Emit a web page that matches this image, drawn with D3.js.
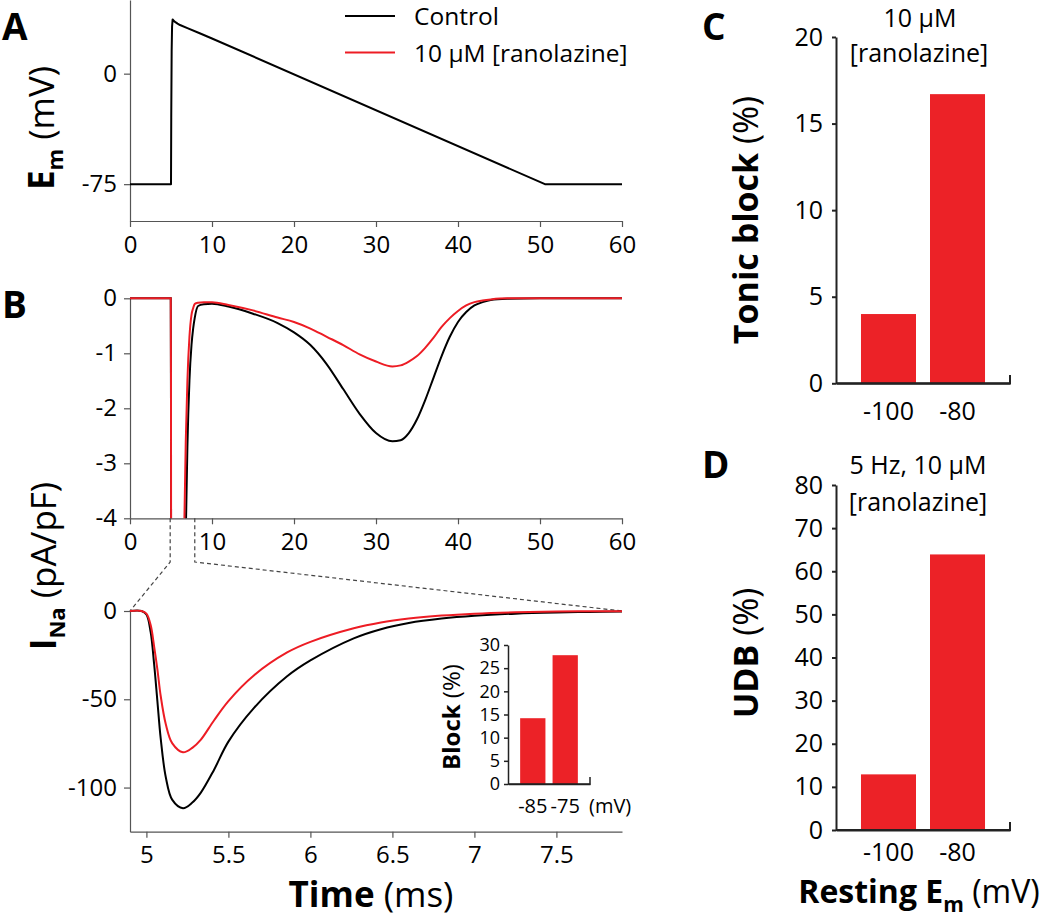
<!DOCTYPE html>
<html><head><meta charset="utf-8">
<script src="https://cdn.jsdelivr.net/npm/d3@7"></script>
<style>body{margin:0;background:#fff} text{font-family:'Open Sans',sans-serif}</style>
</head><body><svg id="c" width="1050" height="922"></svg>
<script>
// ---------- DATA ----------
const seriesNames = ["Control", "10 µM [ranolazine]"];
// Panel A: membrane potential (ms, mV)
const emTime    = [0, 5.0, 5.03, 5.08, 5.13, 5.2, 5.4, 5.8, 6.1, 7.0, 8.5, 10, 50.6, 60];
const emControl = [-75, -75, -30, 15, 32, 36.8, 35.5, 34.0, 33.0, 30.9, 27.4, 23.9, -75, -75];
const emTicks = [0, -75];
const timeTicks = [0, 10, 20, 30, 40, 50, 60];
// Panel B: I_Na (pA/pF) – early (peak) part
const tEarly = [4.9, 4.97, 5.0, 5.026, 5.047, 5.067, 5.087, 5.118, 5.158, 5.223, 5.28, 5.331, 5.412, 5.5, 5.655, 5.858, 6.0, 6.264, 6.43, 6.6, 6.8, 7.0, 7.25, 7.5, 7.7, 7.9];
const iEarlyControl = [0, 0, -2, -12, -30, -51, -72, -94, -107, -111.7, -108.5, -103, -90, -74, -55, -37, -28, -15.5, -10.3, -6.8, -4.3, -2.7, -1.5, -0.85, -0.55, -0.35];
const iEarlyRano    = [0, 0, -1.5, -8, -20, -33, -48, -64, -75, -80, -77.5, -73, -62, -51, -36.5, -23.5, -17.5, -9.8, -6.5, -4.3, -2.6, -1.5, -0.7, -0.3, -0.18, -0.1];
// Panel B: late (persistent) part
const tLate = [8.3, 9, 10, 12, 15, 18, 20, 22, 24, 26, 28, 30, 32, 33, 34, 35, 36, 37, 38, 39, 40, 41, 42, 43, 44, 46, 50, 60];
const iLateControl = [-0.14, -0.11, -0.1, -0.15, -0.28, -0.45, -0.62, -0.85, -1.2, -1.65, -2.1, -2.45, -2.6, -2.58, -2.45, -2.2, -1.85, -1.45, -1.05, -0.7, -0.43, -0.25, -0.13, -0.07, -0.03, -0.01, 0, 0];
const iLateRano    = [-0.08, -0.07, -0.07, -0.12, -0.22, -0.35, -0.43, -0.55, -0.7, -0.85, -1.02, -1.15, -1.24, -1.22, -1.15, -1.05, -0.9, -0.72, -0.52, -0.36, -0.23, -0.13, -0.07, -0.04, -0.02, 0, 0, 0];
const iTopTicks = [0, -1, -2, -3, -4];
const iZoomTicks = [0, -50, -100];
const zoomTimeTicks = [5, 5.5, 6, 6.5, 7, 7.5];
// Inset: block (%)
const insetCats = ["-85", "-75"];
const insetBlock = [14.2, 27.8];
const insetTicks = [0, 5, 10, 15, 20, 25, 30];
// Panel C: tonic block
const restCats = ["-100", "-80"];
const tonicBlock = [4.0, 16.7];
const tonicTicks = [0, 5, 10, 15, 20];
// Panel D: UDB
const udb = [12.9, 63.9];
const udbTicks = [0, 10, 20, 30, 40, 50, 60, 70, 80];

// ---------- STYLE ----------
const BLACK = "#000", RED = "#ED1C24", BAR = "#EC2227", AX = "#555";
const svg = d3.select("#c");
const zip = (t, v) => t.map((d, i) => [d, v[i]]);

function styleAxis(g, color, width, fs) {
  g.attr("font-family", "'Open Sans',sans-serif");
  g.select(".domain").attr("stroke", color).attr("stroke-width", width);
  g.selectAll(".tick line").attr("stroke", color).attr("stroke-width", width);
  g.selectAll(".tick text").attr("font-size", fs).attr("fill", "#000");
}
const fmt = d => String(d);

// ---------- PANEL A ----------
const xA = d3.scaleLinear().domain([0, 60]).range([130, 622]);
const yA = d3.scaleLinear().domain([-100, 50]).range([221, 0]);
styleAxis(svg.append("g").attr("transform", "translate(0,221)")
  .call(d3.axisBottom(xA).tickValues(timeTicks).tickFormat(fmt).tickSize(6).tickSizeOuter(0).tickPadding(9)), AX, 1.2, 24);
styleAxis(svg.append("g").attr("transform", "translate(130,0)")
  .call(d3.axisLeft(yA).tickValues(emTicks).tickFormat(fmt).tickSize(6).tickSizeOuter(0).tickPadding(7)), AX, 1.2, 24);
const lineA = d3.line().x(d => xA(d[0])).y(d => yA(d[1])).curve(d3.curveLinear);
svg.append("path").datum(zip(emTime, emControl)).attr("d", lineA)
  .attr("fill", "none").attr("stroke", BLACK).attr("stroke-width", 2).attr("stroke-linejoin", "round");

// legend
const legend = svg.append("g");
[BLACK, RED].forEach((c, i) => {
  const y = 16 + i * 36.5;
  legend.append("line").attr("x1", 345).attr("x2", 395).attr("y1", y).attr("y2", y).attr("stroke", c).attr("stroke-width", 2);
  legend.append("text").attr("x", 414).attr("y", y + 9).attr("font-size", 24.5).text(seriesNames[i]);
});

// ---------- PANEL B top ----------
const yB = d3.scaleLinear().domain([-4, 0]).range([518.3, 298.3]);
styleAxis(svg.append("g").attr("transform", "translate(0,518.3)")
  .call(d3.axisBottom(xA).tickValues(timeTicks).tickFormat(fmt).tickSize(6).tickSizeOuter(0).tickPadding(9)), AX, 1.2, 24);
styleAxis(svg.append("g").attr("transform", "translate(130,0)")
  .call(d3.axisLeft(yB).tickValues(iTopTicks).tickFormat(fmt).tickSize(6).tickSizeOuter(0).tickPadding(7)), AX, 1.2, 24);
svg.append("clipPath").attr("id", "clipB").append("rect")
  .attr("x", 130).attr("y", 290).attr("width", 500).attr("height", 518.3 - 290);
const lineB = d3.line().x(d => xA(d[0])).y(d => yB(d[1])).curve(d3.curveMonotoneX);
const topCtrl = zip([0].concat(tEarly, tLate), [0].concat(iEarlyControl, iLateControl));
const topRano = zip([0].concat(tEarly, tLate), [0].concat(iEarlyRano, iLateRano));
[[topCtrl, BLACK], [topRano, RED]].forEach(([d, c]) =>
  svg.append("path").datum(d).attr("d", lineB).attr("clip-path", "url(#clipB)")
    .attr("fill", "none").attr("stroke", c).attr("stroke-width", 2));

// ---------- PANEL B zoom ----------
const xZ = d3.scaleLinear().domain([4.9, 7.9]).range([130, 622]);
const yZ = d3.scaleLinear().domain([-125, 0]).range([831.7, 611]);
// dashed connectors
const dash = svg.append("g").attr("fill", "none").attr("stroke", "#444").attr("stroke-width", 1.2).attr("stroke-dasharray", "4,3");
dash.append("path").attr("d", `M${xA(4.9)},${yB(-4)}V562L${xZ(4.9)},${yZ(0)}`);
dash.append("path").attr("d", `M${xA(7.9)},${yB(-4)}V562L${xZ(7.9)},${yZ(0)}`);
styleAxis(svg.append("g").attr("transform", "translate(0,831.7)")
  .call(d3.axisBottom(xZ).tickValues(zoomTimeTicks).tickFormat(fmt).tickSize(6).tickSizeOuter(0).tickPadding(8)), AX, 1.2, 24);
styleAxis(svg.append("g").attr("transform", "translate(130,0)")
  .call(d3.axisLeft(yZ).tickValues(iZoomTicks).tickFormat(fmt).tickSize(6).tickSizeOuter(0).tickPadding(7)), AX, 1.2, 24);
const lineZ = d3.line().x(d => xZ(d[0])).y(d => yZ(d[1])).curve(d3.curveCatmullRom.alpha(0.5));
[[zip(tEarly, iEarlyControl), BLACK], [zip(tEarly, iEarlyRano), RED]].forEach(([d, c]) =>
  svg.append("path").datum(d).attr("d", lineZ)
    .attr("fill", "none").attr("stroke", c).attr("stroke-width", 2));

// ---------- INSET ----------
const xI = d3.scaleBand().domain(insetCats).range([508, 590]).paddingInner(0.22).paddingOuter(0.375);
const yI = d3.scaleLinear().domain([0, 30]).range([784, 645]);
svg.append("g").selectAll("rect").data(insetCats).join("rect")
  .attr("x", d => xI(d)).attr("width", xI.bandwidth())
  .attr("y", (d, i) => yI(insetBlock[i])).attr("height", (d, i) => yI(0) - yI(insetBlock[i]))
  .attr("fill", BAR);
styleAxis(svg.append("g").attr("transform", "translate(508,0)")
  .call(d3.axisLeft(yI).tickValues(insetTicks).tickFormat(fmt).tickSize(4).tickSizeOuter(0).tickPadding(4)), "#222", 1.5, 18);
const gxI = svg.append("g").attr("transform", "translate(0,784)")
  .call(d3.axisBottom(xI).tickSize(0).tickSizeOuter(0).tickPadding(15));
styleAxis(gxI, "#222", 1.5, 20);
svg.append("path").attr("d", "M508,784H590V777").attr("fill", "none").attr("stroke", "#222").attr("stroke-width", 1.5);
svg.append("text").attr("x", 589).attr("y", 813).attr("font-size", 20).text("(mV)");
const tI = svg.append("text").attr("transform", "translate(460,717) rotate(-90)").attr("text-anchor", "middle").attr("font-size", 24);
tI.append("tspan").attr("font-weight", "bold").text("Block");
tI.append("tspan").text(" (%)");

// ---------- PANEL C ----------
const xC = d3.scaleBand().domain(restCats).range([836, 1010]).paddingInner(0.203).paddingOuter(0.362);
const yC = d3.scaleLinear().domain([0, 20]).range([383.3, 37]);
svg.append("g").selectAll("rect").data(restCats).join("rect")
  .attr("x", d => xC(d)).attr("width", xC.bandwidth())
  .attr("y", (d, i) => yC(tonicBlock[i])).attr("height", (d, i) => yC(0) - yC(tonicBlock[i]))
  .attr("fill", BAR);
styleAxis(svg.append("g").attr("transform", "translate(836,0)")
  .call(d3.axisLeft(yC).tickValues(tonicTicks).tickFormat(fmt).tickSize(4).tickSizeOuter(0).tickPadding(9)), "#222", 2, 25);
styleAxis(svg.append("g").attr("transform", "translate(0,383.3)")
  .call(d3.axisBottom(xC).tickSize(0).tickSizeOuter(0).tickPadding(19)), "#222", 2, 25);
svg.append("path").attr("d", "M836,383.3H1010V375").attr("fill", "none").attr("stroke", "#222").attr("stroke-width", 2);
svg.append("text").attr("x", 920).attr("y", 27).attr("text-anchor", "middle").attr("font-size", 25).text("10 µM");
svg.append("text").attr("x", 919).attr("y", 62).attr("text-anchor", "middle").attr("font-size", 25).text("[ranolazine]");
const tC = svg.append("text").attr("transform", "translate(758,220) rotate(-90)").attr("text-anchor", "middle").attr("font-size", 34);
tC.append("tspan").attr("font-weight", "bold").text("Tonic block");
tC.append("tspan").text(" (%)");

// ---------- PANEL D ----------
const yD = d3.scaleLinear().domain([0, 80]).range([830, 485]);
svg.append("g").selectAll("rect").data(restCats).join("rect")
  .attr("x", d => xC(d)).attr("width", xC.bandwidth())
  .attr("y", (d, i) => yD(udb[i])).attr("height", (d, i) => yD(0) - yD(udb[i]))
  .attr("fill", BAR);
styleAxis(svg.append("g").attr("transform", "translate(836,0)")
  .call(d3.axisLeft(yD).tickValues(udbTicks).tickFormat(fmt).tickSize(4).tickSizeOuter(0).tickPadding(9)), "#222", 2, 25);
styleAxis(svg.append("g").attr("transform", "translate(0,830)")
  .call(d3.axisBottom(xC).tickSize(0).tickSizeOuter(0).tickPadding(13)), "#222", 2, 25);
svg.append("path").attr("d", "M836,830H1010V822").attr("fill", "none").attr("stroke", "#222").attr("stroke-width", 2);
svg.append("text").attr("x", 918).attr("y", 474).attr("text-anchor", "middle").attr("font-size", 25).text("5 Hz, 10 µM");
svg.append("text").attr("x", 918).attr("y", 511).attr("text-anchor", "middle").attr("font-size", 25).text("[ranolazine]");
const tD = svg.append("text").attr("transform", "translate(758,653) rotate(-90)").attr("text-anchor", "middle").attr("font-size", 34);
tD.append("tspan").attr("font-weight", "bold").text("UDB");
tD.append("tspan").text(" (%)");

// ---------- AXIS TITLES ----------
const tEm = svg.append("text").attr("transform", "translate(54,128) rotate(-90)").attr("text-anchor", "middle").attr("font-size", 35);
tEm.append("tspan").attr("font-weight", "bold").text("E");
tEm.append("tspan").attr("font-weight", "bold").attr("font-size", 22).attr("dy", 9).text("m");
tEm.append("tspan").attr("dy", -9).text(" (mV)");

const tNa = svg.append("text").attr("transform", "translate(56,566) rotate(-90)").attr("text-anchor", "middle").attr("font-size", 35);
tNa.append("tspan").attr("font-weight", "bold").text("I");
tNa.append("tspan").attr("font-weight", "bold").attr("font-size", 22).attr("dy", 9).text("Na");
tNa.append("tspan").attr("dy", -9).text(" (pA/pF)");

const tTime = svg.append("text").attr("x", 371).attr("y", 907).attr("text-anchor", "middle").attr("font-size", 35);
tTime.append("tspan").attr("font-weight", "bold").text("Time");
tTime.append("tspan").text(" (ms)");

const tRest = svg.append("text").attr("x", 919).attr("y", 903).attr("text-anchor", "middle").attr("font-size", 32);
tRest.append("tspan").attr("font-weight", "bold").text("Resting E");
tRest.append("tspan").attr("font-weight", "bold").attr("font-size", 21).attr("dy", 9).text("m");
tRest.append("tspan").attr("dy", -9).text(" (mV)");

// ---------- PANEL LETTERS ----------
[["A", 2, 40], ["B", 2, 318], ["C", 702, 40], ["D", 702, 478]].forEach(([t, x, y]) =>
  svg.append("text").attr("x", x).attr("y", y).attr("font-size", 37).attr("font-weight", "bold").text(t));
</script></body></html>
